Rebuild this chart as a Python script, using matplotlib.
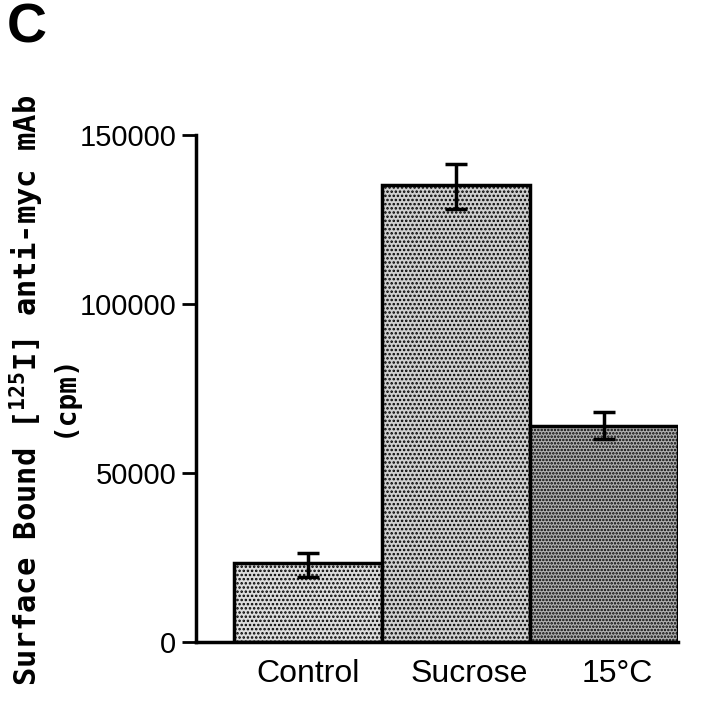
import matplotlib
matplotlib.use("Agg")
import matplotlib.pyplot as plt
import numpy as np

categories = ["Control", "Sucrose", "15°C"]
values = [23300, 135200, 63900]
err_low = [4000, 7000, 3800]
err_high = [3000, 6200, 4300]
yticks = [0, 50000, 100000, 150000]
ytick_labels = ["0", "50000", "100000", "150000"]

plt.rcParams['font.family'] = ['Liberation Sans', 'DejaVu Sans']
plt.rcParams['hatch.linewidth'] = 1.2
plt.rcParams['mathtext.fontset'] = 'custom'
plt.rcParams['mathtext.rm'] = 'DejaVu Sans Mono'
plt.rcParams['mathtext.bf'] = 'DejaVu Sans Mono:bold'

fig = plt.figure(figsize=(7.2, 7.17), dpi=100)
ax = fig.add_axes([0.272, 0.1046, 0.670, 0.707])

x = np.arange(len(categories))
faces = ['#dcdcdc', '#cfcfcf', '#b0b0b0']
hatches = ['....', '....', '.....']
for i in range(len(categories)):
    ax.bar(x[i], values[i], width=1.0, color=faces[i], edgecolor='black',
           linewidth=2.5, hatch=hatches[i], zorder=2)
ax.errorbar(x, values, yerr=[err_low, err_high], fmt='none', ecolor='black',
            elinewidth=2.5, capsize=8, capthick=2.5, zorder=3)

ax.set_xlim(-0.76, 2.5)
ax.set_ylim(0, 150000)
ax.set_yticks(yticks)
ax.set_yticklabels(ytick_labels, fontsize=21)
ax.set_xticks(x + np.array([0.0, 0.09, 0.09]))
ax.set_xticklabels(categories, fontsize=23)
ax.tick_params(axis='x', length=0, pad=12)
ax.tick_params(axis='y', length=10, width=2, direction='out', pad=4)
for s in ['top', 'right']:
    ax.spines[s].set_visible(False)
for s in ['left', 'bottom']:
    ax.spines[s].set_linewidth(2.5)

fig.text(0.0375, 0.456, "Surface Bound [$^{\\mathbf{125}}$I] anti-myc mAb",
         rotation=90, ha='center', va='center', fontsize=22, fontweight='bold',
         family='DejaVu Sans Mono')
fig.text(0.089, 0.449, "(cpm)", rotation=90, ha='center', va='center',
         fontsize=20, fontweight='bold', family='DejaVu Sans Mono')
fig.text(0.01, 0.96, "C", ha='left', va='center', fontsize=40,
         fontweight='bold', family='Liberation Sans')

fig.savefig("out.png", dpi=100)
